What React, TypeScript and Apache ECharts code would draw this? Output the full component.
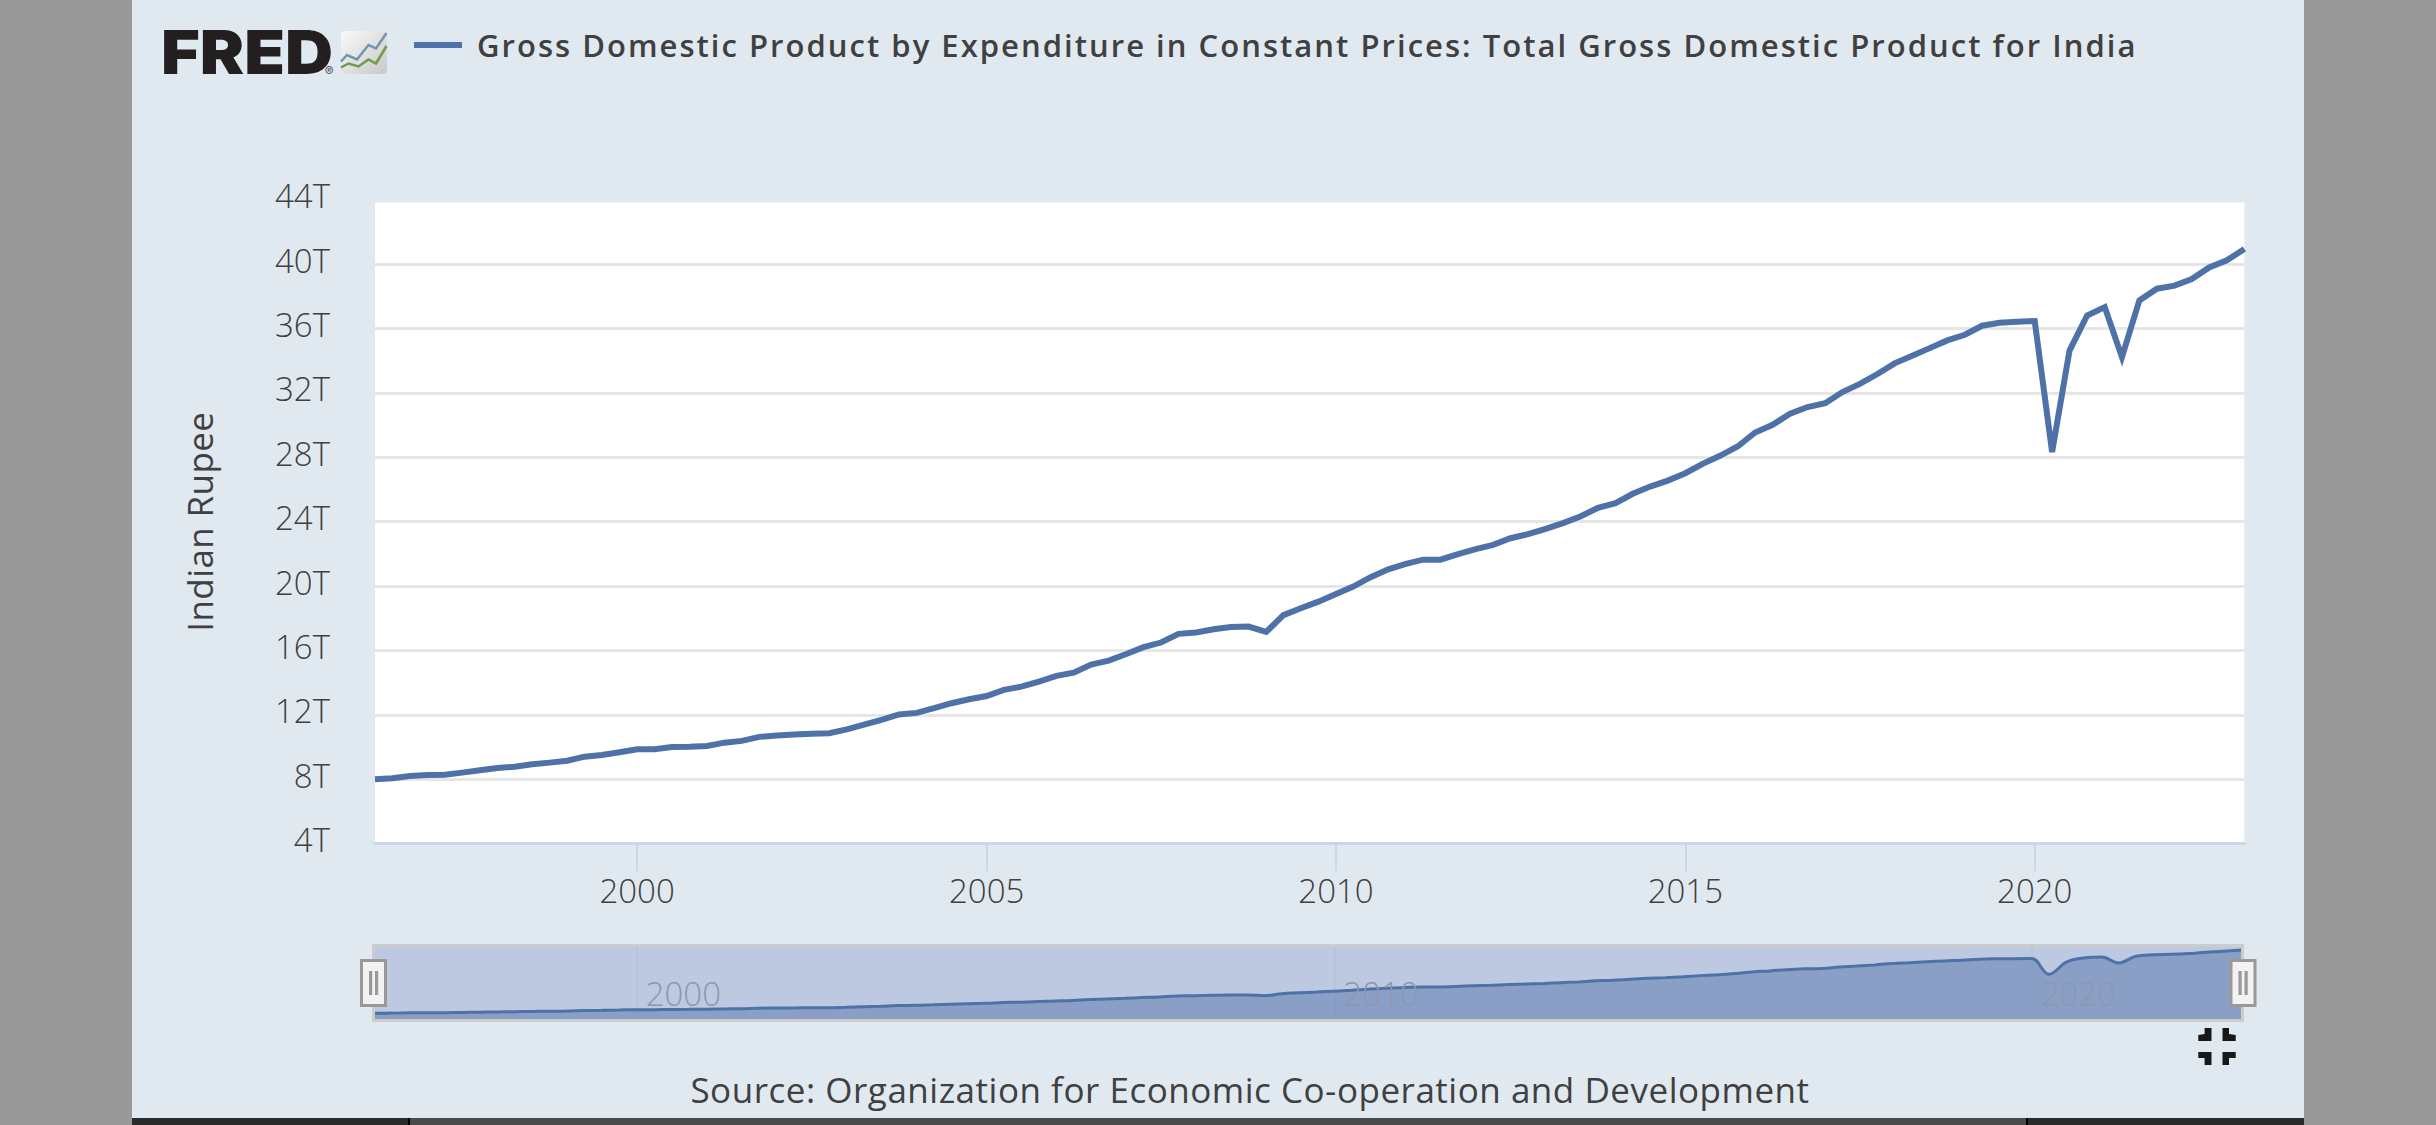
import React, { useEffect, useRef } from "react";
import * as echarts from "echarts";

const SERIES_TITLE =
  "Gross Domestic Product by Expenditure in Constant Prices: Total Gross Domestic Product for India";
const SOURCE = "Source: Organization for Economic Co-operation and Development";
const Y_NAME = "Indian Rupee";

const quarters = [
  "1996-04-01","1996-07-01","1996-10-01",
  "1997-01-01","1997-04-01","1997-07-01","1997-10-01",
  "1998-01-01","1998-04-01","1998-07-01","1998-10-01",
  "1999-01-01","1999-04-01","1999-07-01","1999-10-01",
  "2000-01-01","2000-04-01","2000-07-01","2000-10-01",
  "2001-01-01","2001-04-01","2001-07-01","2001-10-01",
  "2002-01-01","2002-04-01","2002-07-01","2002-10-01",
  "2003-01-01","2003-04-01","2003-07-01","2003-10-01",
  "2004-01-01","2004-04-01","2004-07-01","2004-10-01",
  "2005-01-01","2005-04-01","2005-07-01","2005-10-01",
  "2006-01-01","2006-04-01","2006-07-01","2006-10-01",
  "2007-01-01","2007-04-01","2007-07-01","2007-10-01",
  "2008-01-01","2008-04-01","2008-07-01","2008-10-01",
  "2009-01-01","2009-04-01","2009-07-01","2009-10-01",
  "2010-01-01","2010-04-01","2010-07-01","2010-10-01",
  "2011-01-01","2011-04-01","2011-07-01","2011-10-01",
  "2012-01-01","2012-04-01","2012-07-01","2012-10-01",
  "2013-01-01","2013-04-01","2013-07-01","2013-10-01",
  "2014-01-01","2014-04-01","2014-07-01","2014-10-01",
  "2015-01-01","2015-04-01","2015-07-01","2015-10-01",
  "2016-01-01","2016-04-01","2016-07-01","2016-10-01",
  "2017-01-01","2017-04-01","2017-07-01","2017-10-01",
  "2018-01-01","2018-04-01","2018-07-01","2018-10-01",
  "2019-01-01","2019-04-01","2019-07-01","2019-10-01",
  "2020-01-01","2020-04-01","2020-07-01","2020-10-01",
  "2021-01-01","2021-04-01","2021-07-01","2021-10-01",
  "2022-01-01","2022-04-01","2022-07-01","2022-10-01",
  "2023-01-01",
];

// Trillions of rupees
const gdp = [
  8.0,8.06,8.2,
  8.26,8.28,8.41,8.56,
  8.7,8.78,8.93,9.03,
  9.15,9.4,9.51,9.67,
  9.86,9.86,10.0,10.02,
  10.07,10.27,10.38,10.63,
  10.71,10.77,10.83,10.86,
  11.1,11.39,11.68,12.02,
  12.12,12.41,12.72,12.97,
  13.17,13.55,13.75,14.06,
  14.42,14.62,15.12,15.37,
  15.78,16.2,16.49,17.03,
  17.11,17.32,17.46,17.48,
  17.15,18.19,18.62,19.03,
  19.51,19.97,20.55,21.04,
  21.38,21.64,21.64,21.98,
  22.29,22.56,22.97,23.22,
  23.55,23.91,24.32,24.86,
  25.15,25.73,26.18,26.55,
  27.01,27.59,28.09,28.67,
  29.54,30.02,30.7,31.12,
  31.36,32.05,32.56,33.17,
  33.85,34.3,34.78,35.26,
  35.61,36.17,36.36,36.42,
  36.46,28.32,34.63,36.81,
  37.33,34.22,37.74,38.47,
  38.66,39.07,39.79,40.23,
  40.94,
];

const yTicks = [4, 8, 12, 16, 20, 24, 28, 32, 36, 40, 44];
const xTickYears = [2000, 2005, 2010, 2015, 2020];
const navTickYears = [2000, 2010, 2020];

const BG = "#e1e9f0";
const SIDE = "#999999";
const LINE = "#4e72a8";
const TEXT = "#404040";
const AXIS = "#ccd6eb";
const FONT = "'Open Sans'";

const ts = (d: string) => new Date(d + "T00:00:00Z").getTime();
const yearTs = (y: number) => Date.UTC(y, 0, 1);
const points = quarters.map((q, i) => [ts(q), gdp[i]]);
const xMin = ts(quarters[0]);
const xMax = ts(quarters[quarters.length - 1]);

const rect = (x: number, y: number, w: number, h: number, fill: string, extra: any = {}) => ({
  type: "rect",
  z: 10,
  shape: { x, y, width: w, height: h, ...(extra.shape || {}) },
  style: { fill, ...(extra.style || {}) },
  silent: true,
});

const handle = (x: number) => [
  rect(x + 1.5, 960.5, 24, 45, "#f2f2f2", { style: { stroke: "#999999", lineWidth: 3 } }),
  rect(x + 9, 971, 3.2, 24, "#999999"),
  rect(x + 15, 971, 3.2, 24, "#999999"),
];

const corner = (pts: number[][]) => ({
  type: "polygon",
  z: 10,
  shape: { points: pts },
  style: { fill: "#181818" },
  silent: true,
});

const spacing: [string, string][] = [
  [SERIES_TITLE, "2.03px"],
  [SOURCE, "0.52px"],
  [Y_NAME, "0.4px"],
];

const App = () => {
  const ref = useRef<HTMLDivElement>(null);
  useEffect(() => {
    document.body.style.margin = "0";
    const chart = echarts.init(ref.current!, undefined, { renderer: "svg" });
    const applySpacing = () => {
      ref.current?.querySelectorAll("text").forEach((t) => {
        const hit = spacing.find(([s]) => s === t.textContent);
        if (hit) t.style.letterSpacing = hit[1];
      });
    };
    chart.on("finished", applySpacing);
    chart.setOption({
      animation: false,
      backgroundColor: BG,
      textStyle: { fontFamily: FONT },
      legend: {
        show: true,
        data: [SERIES_TITLE],
        left: 414,
        top: 29.5,
        padding: 0,
        icon: "rect",
        itemWidth: 48,
        itemHeight: 6,
        selectedMode: false,
        textStyle: {
          fontFamily: FONT,
          fontSize: 31,
          fontWeight: 600,
          color: TEXT,
          padding: [0, 0, 0, 10],
        },
      },
      grid: [
        { left: 375, top: 199.7, width: 1869.4, height: 643.9, show: true, backgroundColor: "#ffffff", borderWidth: 0 },
        { left: 375, top: 947, width: 1866, height: 72, show: true, backgroundColor: "#bdc9e0", borderWidth: 0 },
      ],
      xAxis: [
        {
          type: "value",
          gridIndex: 0,
          min: xMin,
          max: xMax,
          axisLine: { show: true, onZero: false, lineStyle: { color: AXIS, width: 3 } },
          axisTick: {
            show: true,
            length: 28,
            lineStyle: { color: AXIS, width: 2 },
            customValues: xTickYears.map(yearTs),
          },
          splitLine: { show: false },
          axisLabel: {
            fontFamily: FONT,
            fontSize: 33,
            fontWeight: 300,
            color: TEXT,
            margin: 30,
            customValues: xTickYears.map(yearTs),
            formatter: (v: number) => String(new Date(v).getUTCFullYear()),
          },
        },
        {
          type: "value",
          gridIndex: 1,
          z: 5,
          min: xMin,
          max: xMax,
          axisLine: { show: false, onZero: false },
          axisTick: {
            show: true,
            inside: true,
            length: 72,
            lineStyle: { color: "rgba(120,130,160,0.08)", width: 2 },
            customValues: navTickYears.map(yearTs),
          },
          splitLine: { show: false },
          axisLabel: {
            inside: true,
            fontFamily: FONT,
            fontSize: 33,
            fontWeight: 300,
            color: "#8e97ad",
            align: "left",
            margin: 9,
            padding: [0, 0, 0, 9],
            customValues: navTickYears.map(yearTs),
            formatter: (v: number) => String(new Date(v).getUTCFullYear()),
          },
        },
      ],
      yAxis: [
        {
          type: "value",
          gridIndex: 0,
          min: 4,
          max: 44,
          interval: 4,
          name: Y_NAME,
          nameLocation: "middle",
          nameRotate: 90,
          nameGap: 158,
          nameTextStyle: { fontFamily: FONT, fontSize: 35, color: TEXT },
          axisLine: { show: false },
          axisTick: { show: false },
          splitLine: { show: true, lineStyle: { color: "#e6e6e6", width: 3 } },
          axisLabel: {
            fontFamily: FONT,
            fontSize: 33,
            fontWeight: 300,
            color: TEXT,
            margin: 45,
            verticalAlign: "bottom",
            lineHeight: 8,
            customValues: yTicks,
            formatter: (v: number) => `${v}T`,
          },
        },
        {
          type: "value",
          gridIndex: 1,
          min: 5,
          max: 42.5,
          show: false,
          splitLine: { show: false },
        },
      ],
      series: [
        {
          name: "Navigator",
          type: "line",
          xAxisIndex: 1,
          yAxisIndex: 1,
          data: points,
          smooth: 0.4,
          showSymbol: false,
          lineStyle: { color: LINE, width: 3 },
          areaStyle: { color: "#8a9fc5", opacity: 1 },
          silent: true,
        },
        {
          name: SERIES_TITLE,
          type: "line",
          xAxisIndex: 0,
          yAxisIndex: 0,
          data: points,
          showSymbol: false,
          itemStyle: { color: LINE },
          lineStyle: { color: LINE, width: 6, join: "miter", miterLimit: 4, cap: "butt" },
          silent: true,
        },
      ],
      graphic: [
        rect(0, 0, 132, 1125, SIDE),
        rect(2304, 0, 132, 1125, SIDE),
        rect(132, 1118, 276, 7, "#2a2a2a"),
        rect(408, 1118, 2, 7, "#000000"),
        rect(410, 1118, 1616, 7, "#4a4a4a"),
        rect(2026, 1118, 2, 7, "#000000"),
        rect(2028, 1118, 276, 7, "#2a2a2a"),
        {
          type: "text",
          z: 11,
          x: 506,
          y: 1117,
          silent: true,
          style: { text: "NOTES", fontFamily: FONT, fontSize: 42, fill: "#777777", textVerticalAlign: "top" },
        },
        rect(375, 196, 1870, 6.6, BG),
        rect(373.5, 945.5, 1869, 75, "none", { style: { stroke: "#cccccc", lineWidth: 3 } }),
        ...handle(360),
        ...handle(2229.5),
        corner([[2204.6, 1034],[2204.6, 1028],[2211.5, 1028],[2211.5, 1041],[2198.3, 1041],[2198.3, 1035]]),
        corner([[2222.5, 1028],[2229, 1028],[2229, 1034],[2235.7, 1035],[2235.7, 1041],[2222.5, 1041]]),
        corner([[2198.3, 1052],[2211.5, 1052],[2211.5, 1065],[2204.6, 1065],[2204.6, 1058],[2198.3, 1058]]),
        corner([[2222.5, 1052],[2235.7, 1052],[2235.7, 1058],[2229, 1058],[2229, 1065],[2222.5, 1065]]),
        {
          type: "text",
          z: 11,
          x: 1250,
          y: 1089,
          silent: true,
          style: {
            text: SOURCE,
            fontFamily: FONT,
            fontSize: 35,
            fontWeight: 400,
            fill: TEXT,
            textAlign: "center",
            textVerticalAlign: "middle",
          },
        },
        {
          type: "text",
          z: 11,
          x: 161,
          y: 52,
          scaleX: 1.09,
          silent: true,
          style: {
            text: "FRED",
            fontFamily: "Inter",
            fontSize: 61,
            fontWeight: 900,
            fill: "#231f20",
            textVerticalAlign: "middle",
          },
        },
        {
          type: "text",
          z: 11,
          x: 329,
          y: 71,
          silent: true,
          style: { text: "®", fontFamily: "Inter", fontSize: 13, fill: "#555555", textAlign: "center", textVerticalAlign: "middle" },
        },
        {
          type: "rect",
          z: 11,
          shape: { x: 341, y: 31, width: 46, height: 43, r: 4 },
          style: {
            fill: new echarts.graphic.LinearGradient(0, 0, 1, 1, [
              { offset: 0, color: "#fafafa" },
              { offset: 1, color: "#c8c8c8" },
            ]),
          },
          silent: true,
        },
        {
          type: "polyline",
          z: 12,
          shape: { points: [[341, 61.5],[347, 55],[357, 59.5],[368.5, 45],[376, 48.5],[386.5, 33]] },
          style: { fill: "none", stroke: "#6f96b4", lineWidth: 2.5 },
          silent: true,
        },
        {
          type: "polyline",
          z: 12,
          shape: { points: [[341, 67.5],[348.5, 63.5],[358.5, 66.5],[368.5, 59.5],[376, 63.5],[386.5, 46]] },
          style: { fill: "none", stroke: "#6f9b4a", lineWidth: 2.5 },
          silent: true,
        },
      ],
    });
    applySpacing();
    return () => chart.dispose();
  }, []);
  return <div ref={ref} style={{ position: "absolute", left: 0, top: 0, width: 2436, height: 1125 }} />;
};

export default App;
